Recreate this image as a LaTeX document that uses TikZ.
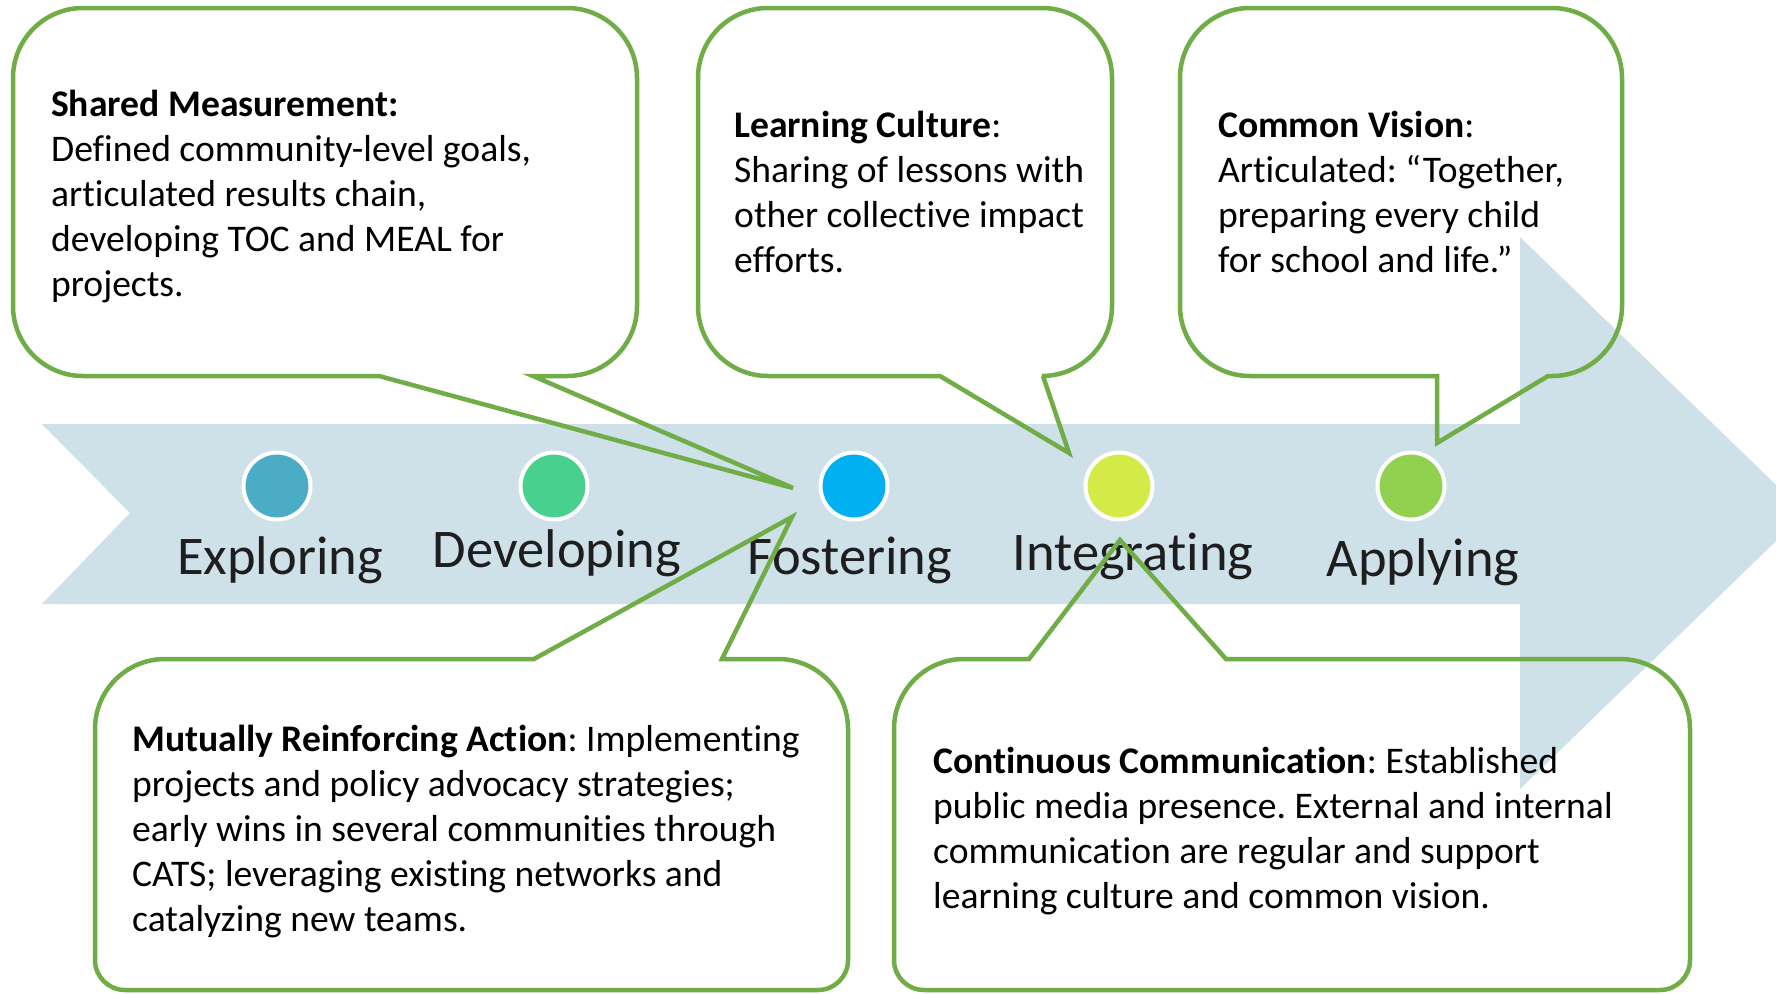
\documentclass[tikz,border=0pt]{standalone}
\usepackage{fontspec}
\setmainfont{Carlito}[Ligatures=NoCommon]
\frenchspacing
\definecolor{bandc}{HTML}{CEE1E8}
\definecolor{cA}{HTML}{4BACC6}
\definecolor{cB}{HTML}{48D08F}
\definecolor{cC}{HTML}{00B0F0}
\definecolor{cD}{HTML}{D4EB47}
\definecolor{cE}{HTML}{92D050}
\definecolor{cgreen}{HTML}{70AD47}
\definecolor{lblc}{HTML}{1E1E1E}
% callout with pointer on the bottom edge: L,T,R,B,r, base-left, base-right, tip x, tip y
\newcommand{\calloutB}[9]{%
 \draw[callout] (#6,#4) -- ({#1+#5},#4)
   .. controls ({#1+0.4477*#5},#4) and (#1,{#4-0.4477*#5}) .. (#1,{#4-#5})
   -- (#1,{#2+#5})
   .. controls (#1,{#2+0.4477*#5}) and ({#1+0.4477*#5},#2) .. ({#1+#5},#2)
   -- ({#3-#5},#2)
   .. controls ({#3-0.4477*#5},#2) and (#3,{#2+0.4477*#5}) .. (#3,{#2+#5})
   -- (#3,{#4-#5})
   .. controls (#3,{#4-0.4477*#5}) and ({#3-0.4477*#5},#4) .. ({#3-#5},#4)
   -- (#7,#4) -- (#8,#9) -- cycle;}
% callout with pointer on the top edge
\newcommand{\calloutT}[9]{%
 \draw[callout] (#7,#2) -- ({#3-#5},#2)
   .. controls ({#3-0.4477*#5},#2) and (#3,{#2+0.4477*#5}) .. (#3,{#2+#5})
   -- (#3,{#4-30})
   .. controls (#3,{#4-13.4}) and ({#3-13.4},#4) .. ({#3-30},#4)
   -- ({#1+30},#4)
   .. controls ({#1+13.4},#4) and (#1,{#4-13.4}) .. (#1,{#4-30})
   -- (#1,{#2+#5})
   .. controls (#1,{#2+0.4477*#5}) and ({#1+0.4477*#5},#2) .. ({#1+#5},#2)
   -- (#6,#2) -- (#8,#9) -- cycle;}
\begin{document}
\begin{tikzpicture}[x=1pt,y=-1pt,
  callout/.style={draw=cgreen, line width=4.5pt},
  dot/.style={circle, minimum size=67pt, inner sep=0pt, draw=white, line width=4pt},
  lbl/.style={anchor=base, inner sep=0pt, text=lblc, font=\fontsize{54.5}{60}\selectfont},
  txt/.style={anchor=north west, inner sep=0pt, align=left, text=black, font=\fontsize{37.6}{45}\selectfont}]
\useasboundingbox (0,0) rectangle (1776,993);
\clip (0,0) rectangle (1776,993);
\fill[white] (0,0) rectangle (1776,993);
% band arrow
\fill[bandc] (42,424) -- (1520,424) -- (1520,237) -- (1805,513) -- (1520,789) -- (1520,604) -- (42,604) -- (130,513) -- cycle;
% stage dots
\node[dot, fill=cA] (dA) at (277,486) {};
\node[dot, fill=cB] (dB) at (554,486) {};
\node[dot, fill=cC] (dC) at (854,486) {};
\node[dot, fill=cD] (dD) at (1119,486) {};
\node[dot, fill=cE] (dE) at (1411,486) {};
% stage labels
\node[lbl] (lA) at (280,574) {Exploring};
\node[lbl] (lB) at (557,567) {Developing};
\node[lbl] (lC) at (850,574) {Fostering};
\node[lbl] (lD) at (1133,570) {Integrating};
\node[lbl] (lE) at (1423,576) {Applying};
% callouts
\calloutB{13}{8}{637}{376}{70}{379}{533}{793}{488}
\calloutB{698}{8}{1112}{376}{70}{940}{1043}{1069}{453}
\calloutB{1180}{8}{1622}{376}{70}{1437}{1548}{1437}{443}
\calloutT{95}{659}{848}{990}{70}{534}{722}{792}{517}
\calloutT{894}{659}{1690}{990}{70}{1029}{1226}{1120}{540}
% callout texts
\node[txt] (tA) at (51,{116-31.5}) {\strut\textbf{Shared Measurement:}\\Defined community-level goals,\\articulated results chain,\\developing TOC and MEAL for\\projects.};
\node[txt] (tB) at (734,{137-31.5}) {\strut\textbf{Learning Culture}:\\Sharing of lessons with\\other collective impact\\efforts.};
\node[txt] (tC) at (1218,{137-31.5}) {\strut\textbf{Common Vision}:\\Articulated: “Together,\\preparing every child\\for school and life.”};
\node[txt] (tD) at (132,{751-31.5}) {\strut\textbf{Mutually Reinforcing Action}: Implementing\\projects and policy advocacy strategies;\\early wins in several communities through\\CATS; leveraging existing networks and\\catalyzing new teams.};
\node[txt] (tE) at (933,{773-31.5}) {\strut\textbf{Continuous Communication}: Established\\public media presence. External and internal\\communication are regular and support\\learning culture and common vision.};
\end{tikzpicture}
\end{document}
